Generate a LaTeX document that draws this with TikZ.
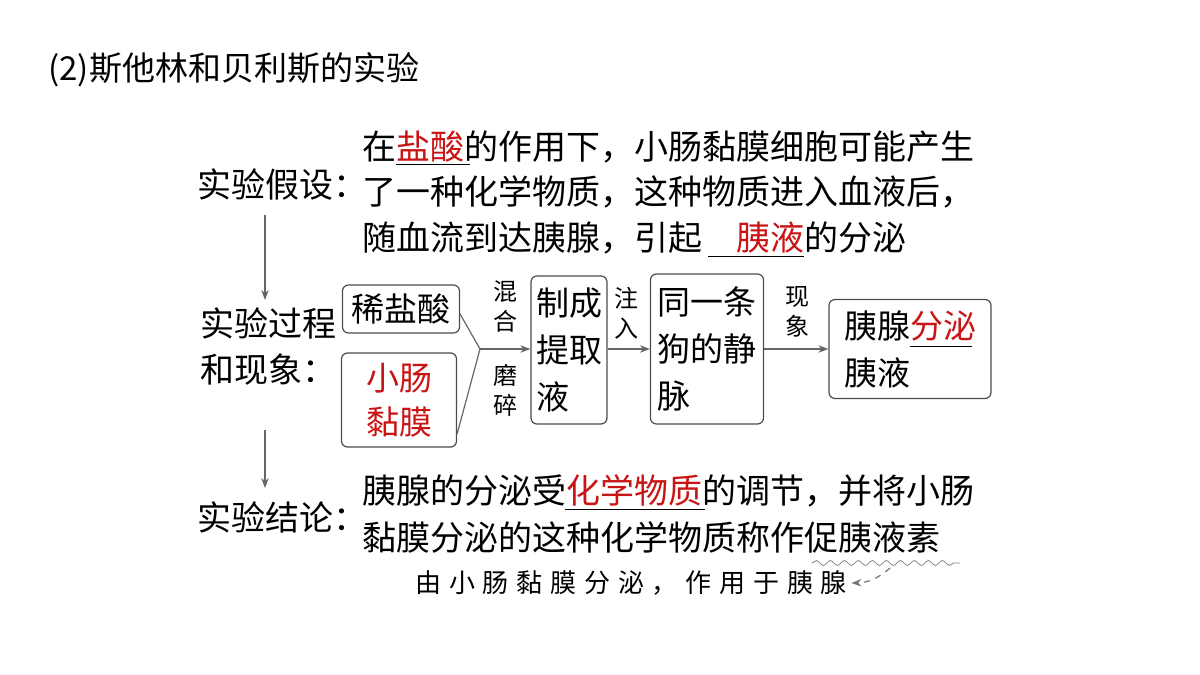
\documentclass[tikz,border=0pt]{standalone}
\usepackage{fontspec}
\setmainfont{Liberation Serif}
\newfontfamily\cjk{Noto Sans CJK SC}
\newfontfamily\cjkspaced[LetterSpace=30]{Noto Sans CJK SC}
\usetikzlibrary{positioning,arrows.meta,decorations.pathmorphing}
\definecolor{ansred}{RGB}{200,20,20}
\begin{document}
\begin{tikzpicture}[x=0.5pt,y=-0.5pt,
  txt/.style={anchor=west,inner sep=0pt,font=\cjk\fontsize{17}{20}\selectfont},
  box/.style={draw=black!70,rounded corners=3pt,line width=0.6pt,inner sep=0pt},
  lbl/.style={inner sep=0pt,font=\cjk\fontsize{12}{15}\selectfont,align=center},
  arr/.style={-{Stealth[length=5pt]},draw=black!60,line width=0.6pt}]
  \useasboundingbox (0,0) rectangle (1200,675);
  \node[anchor=west,inner sep=0pt,font=\cjk\fontsize{16.5}{19}\selectfont] (title) at (48,70) {(2)斯他林和贝利斯的实验};
  % hypothesis
  \node[txt] (hyp) at (197,185) {实验假设：};
  \node[txt] (h1) at (362,147) {在\textcolor{ansred}{盐酸}的作用下，小肠黏膜细胞可能产生};
  \node[txt] (h2) at (362,192) {了一种化学物质，这种物质进入血液后，};
  \node[txt] (h3) at (362,238) {随血流到达胰腺，引起\hphantom{胰}\textcolor{ansred}{胰液}的分泌};
  \draw (396,164) -- (470,164);
  \draw (708,256) -- (804,256);
  % process
  \node[txt] (proc1) at (200,323) {实验过程};
  \node[txt] (proc2) at (200,370) {和现象：};
  \node[box,minimum width=58.5,minimum height=24,font=\cjk\fontsize{16.5}{19}\selectfont] (acid) at (401,309) {稀盐酸};
  \node[box,minimum width=57.5,minimum height=47,align=center,text=ansred,font=\cjk\fontsize{16.5}{22}\selectfont] (muc) at (399,400) {小肠\\黏膜};
  \node[box,minimum width=38,minimum height=74,align=left,font=\cjk\fontsize{16.5}{23.5}\selectfont] (ext) at (569,350) {制成\\提取\\液};
  \node[box,minimum width=56.5,minimum height=75,align=left,font=\cjk\fontsize{16.5}{23.5}\selectfont] (dog) at (707,349) {同一条\\狗的静\\脉};
  \node[box,minimum width=81,minimum height=49.5,align=left,font=\cjk\fontsize{16.5}{23.5}\selectfont] (res) at (910,349) {胰腺\textcolor{ansred}{分泌}\\胰液\hphantom{胰液}};
  \draw (910,346) -- (972,346);
  \coordinate (join) at (480,349);
  \draw[draw=black!60,line width=0.6pt] (acid.east) ++(0,5) -- (join);
  \draw[draw=black!60,line width=0.6pt] (muc.east) ++(0,34) -- (join);
  \draw[arr] (join) -- (ext.west |- join);
  \draw[arr] (ext.east |- join) -- (dog.west |- join);
  \draw[arr] (dog.east |- join) -- (res.west |- join);
  \node[lbl] (mix) at (505,307) {混\\合};
  \node[lbl] (grind) at (505,390) {磨\\碎};
  \node[lbl] (inject) at (626,313) {注\\入};
  \node[lbl] (obs) at (797,312) {现\\象};
  \draw[arr] (265,215) -- (265,300);
  \draw[arr] (265,430) -- (265,488);
  % conclusion
  \node[txt] (con) at (197,517) {实验结论：};
  \node[txt] (c1) at (362,491) {胰腺的分泌受\textcolor{ansred}{化学物质}的调节，并将小肠};
  \node[txt] (c2) at (362,537) {黏膜分泌的这种化学物质称作促胰液素};
  \draw (565,509) -- (705,509);
  \draw[black!50,decorate,decoration={snake,amplitude=1.2pt,segment length=7pt}] (812,563) -- (960,563);
  \node[anchor=west,inner sep=0pt,font=\cjkspaced\fontsize{13}{15}\selectfont] (note) at (415,583) {由小肠黏膜分泌，作用于胰腺};
  \coordinate (wave) at (890,568);
  \draw[-{Stealth[length=5pt]},black!55,dashed,line width=0.6pt] (wave) to[bend left=20] ([xshift=2pt]note.east);
\end{tikzpicture}
\end{document}
